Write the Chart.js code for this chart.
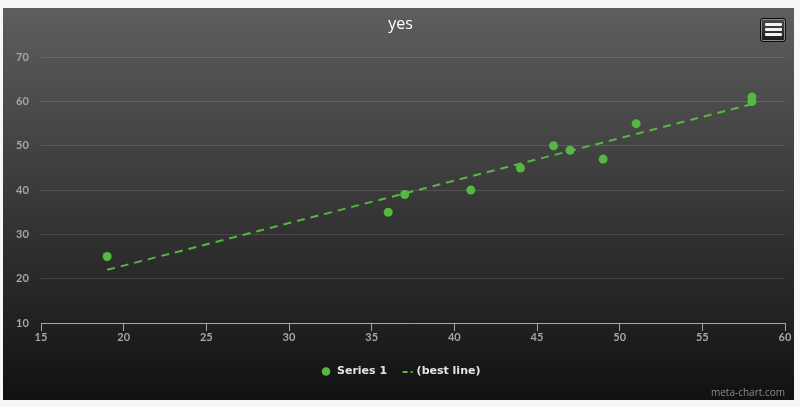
<!DOCTYPE html>
<html>
<head>
<meta charset="utf-8">
<title>yes</title>
<script src="https://cdn.jsdelivr.net/npm/chart.js@4/dist/chart.umd.min.js"></script>
<style>
    html, body { margin: 0; padding: 0; background: #f7f7f7; }
    #wrap {
        position: absolute; left: 3px; top: 8px; width: 791px; height: 392px;
        background: linear-gradient(#5e5e5e, #111111);
    }
    #menu {
        position: absolute; left: 757px; top: 10px; width: 24px; height: 20px;
        border: 1px solid #0c0c0c; border-radius: 3px;
        box-shadow: inset 0 0 0 1px #8a8a8a;
        background: linear-gradient(#4c4c4c, #1a1a1a);
        padding: 2px 0 0 0; box-sizing: content-box;
    }
    #menu span {
        display: block; width: 17px; height: 3px; margin: 2px auto 0 auto;
        background: #f2f2f2; border-radius: 1px;
    }
</style>
</head>
<body>
<div id="wrap">
    <canvas id="chart"></canvas>
    <div id="menu"><span></span><span></span><span></span></div>
</div>
<script>
(() => {
    'use strict'

    // values
    const seriesX = [19, 36, 37, 41, 44, 46, 47, 49, 51, 58, 58]
    const seriesY = [25, 35, 39, 40, 45, 50, 49, 47, 55, 61, 60]
    const bestLineX = [19, 58]
    const bestLineY = [22, 59.4]
    const xTickValues = [15, 20, 25, 30, 35, 40, 45, 50, 55, 60]
    const yTickValues = [10, 20, 30, 40, 50, 60, 70]

    const GREEN = 'rgb(84, 184, 66)'
    const TICK_GREY = '#a6a6a6'
    const tickFont = { family: 'Lato', size: 11, weight: 'bold' }

    const toPoints = (xs, ys) => xs.map((x, i) => ({ x: x, y: ys[i] }))

    // small dashed swatch for the "(best line)" legend entry
    const dashSwatch = document.createElement('canvas')
    dashSwatch.width = 16
    dashSwatch.height = 2
    const sctx = dashSwatch.getContext('2d')
    sctx.fillStyle = GREEN
    sctx.fillRect(5, 0, 5, 2)
    sctx.fillRect(13, 0, 2, 2)

    new Chart(document.getElementById('chart'), {
        type: 'scatter',
        data: {
            datasets: [
                {
                    label: 'Series 1',
                    data: toPoints(seriesX, seriesY),
                    backgroundColor: GREEN,
                    borderWidth: 0,
                    pointRadius: 4.5,
                    pointStyle: 'circle',
                },
                {
                    label: '(best line)',
                    data: toPoints(bestLineX, bestLineY),
                    showLine: true,
                    borderColor: GREEN,
                    backgroundColor: GREEN,
                    borderWidth: 2,
                    borderDash: [8, 6],
                    pointRadius: 0,
                    pointStyle: dashSwatch,
                },
            ],
        },
        options: {
            responsive: true,
            maintainAspectRatio: false,
            animation: false,
            layout: {
                padding: { left: 13, right: 9, top: 0, bottom: 0 },
            },
            plugins: {
                title: {
                    display: true,
                    text: 'yes',
                    color: '#ffffff',
                    font: { family: 'Open Sans', size: 16, weight: 'normal' },
                    padding: { top: 7, bottom: 23 },
                },
                subtitle: {
                    display: true,
                    text: 'meta-chart.com',
                    position: 'bottom',
                    align: 'end',
                    color: '#8a8a8a',
                    font: { family: 'Open Sans', size: 10, weight: 'normal' },
                    padding: { top: 0, bottom: 1 },
                },
                legend: {
                    display: true,
                    position: 'bottom',
                    labels: {
                        usePointStyle: true,
                        boxWidth: 16,
                        boxHeight: 6,
                        padding: 13,
                        color: '#e4e4e4',
                        font: { family: 'DejaVu Sans', size: 11, weight: 'bold' },
                    },
                },
                tooltip: { enabled: false },
            },
            scales: {
                x: {
                    type: 'linear',
                    position: 'bottom',
                    min: 15,
                    max: 60,
                    afterBuildTicks: (scale) => { scale.ticks = xTickValues.map(v => ({ value: v })) },
                    afterFit: (scale) => { scale.height = 30 },
                    grid: {
                        drawOnChartArea: false,
                        drawTicks: true,
                        tickLength: 8,
                        color: TICK_GREY,
                    },
                    border: { display: true, color: TICK_GREY, width: 1 },
                    ticks: { color: TICK_GREY, font: tickFont, padding: 0, maxRotation: 0 },
                },
                y: {
                    type: 'linear',
                    position: 'left',
                    min: 10,
                    max: 70,
                    afterBuildTicks: (scale) => { scale.ticks = yTickValues.map(v => ({ value: v })) },
                    afterFit: (scale) => { scale.width = 25 },
                    grid: {
                        drawTicks: false,
                        color: 'rgba(255, 255, 255, 0.13)',
                    },
                    border: { display: false },
                    ticks: { color: TICK_GREY, font: tickFont, padding: 0, crossAlign: 'far' },
                },
            },
        },
    })
})()
</script>
</body>
</html>
